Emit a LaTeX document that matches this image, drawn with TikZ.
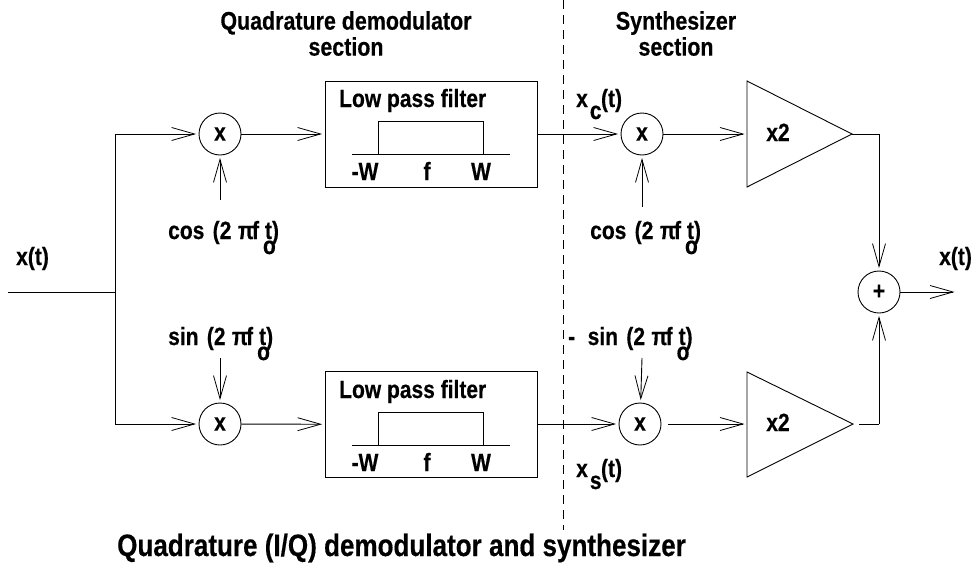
\documentclass[tikz,border=0pt]{standalone}
\usepackage{fontspec}
\setmainfont{Liberation Sans}[BoldFont={Liberation Sans Bold},BoldFeatures={FakeStretch=0.84,FakeBold=0.4}]
\usetikzlibrary{arrows.meta}
\newcommand{\lbl}{\fontsize{25}{28}\selectfont\bfseries}
\newcommand{\cosf}{(2\kern6.5ptπ\kern-2pt f\kern6pt\rlap{\kern-2pt\raisebox{-15pt}{o}}t)}
\newcommand{\subtxt}[1]{x\kern2pt\raisebox{-12pt}{#1}\kern-0.5pt(t)}
\tikzset{
  x=1pt,y=-1pt,
  wire/.style={line width=0.9pt,line join=miter},
  flow/.style={wire,-{Straight Barb[length=23pt,width=13pt,line width=0.8pt]},shorten >=2.5pt},
  mixer/.style={draw,circle,line width=0.9pt,minimum size=42pt,inner sep=0pt,font=\lbl},
  filterbox/.style={draw,line width=0.9pt,minimum width=212pt,minimum height=106pt,inner sep=0pt},
  txt/.style={inner sep=0pt,font=\lbl},
  sectxt/.style={inner sep=0pt,font=\fontsize{25.5}{26}\selectfont\bfseries,align=center},
}
\begin{document}
\begin{tikzpicture}
\useasboundingbox (0,0) rectangle (974,568);
% sections
\node[sectxt] (sec1) at (346,33.5) {Quadrature demodulator\\section};
\node[sectxt] (sec2) at (676,33.5) {Synthesizer\\section};
\coordinate (dashtop) at (563,0);
\coordinate (dashbot) at (563,530);
\draw[line width=0.8pt,dash pattern=on 9pt off 6pt] (dashtop) -- (dashbot);
% input
\coordinate (in) at (8,292);
\coordinate (split) at (115,292);
\coordinate (up) at (115,134);
\coordinate (dn) at (115,424);
\node[txt,anchor=base west] (xin) at (16,265) {x(t)};
\draw[wire] (in) -- (split);
% mixers
\node[mixer] (m1) at (220,134) {x};
\node[mixer] (m2) at (220,424) {x};
\node[mixer] (m3) at (642,134) {x};
\node[mixer] (m4) at (640,424) {x};
\node[mixer] (sum) at (879,292) {+};
\draw[flow] (up) -- (m1);
\draw[flow] (dn) -- (m2);
\draw[wire] (up) -- (dn);
% filters
\node[filterbox] (f1) at (431,134) {};
\node[filterbox] (f2) at (431,424.5) {};
\foreach \n/\y in {a/0,b/291}{
  \begin{scope}[yshift=-\y pt]
    \coordinate (bl\n) at (352,154);
    \coordinate (br\n) at (510,154);
    \coordinate (p1\n) at (378,154);
    \coordinate (p2\n) at (378,121);
    \coordinate (p3\n) at (483,121);
    \coordinate (p4\n) at (483,154);
    \draw[wire] (bl\n) -- (br\n);
    \draw[wire] (p1\n) -- (p2\n) -- (p3\n) -- (p4\n);
    \node[txt,anchor=base west] (lp\n) at (339,107) {Low pass filter};
    \node[txt,anchor=base] (lw\n) at (365,180) {-W};
    \node[txt,anchor=base] (lf\n) at (427,180) {f};
    \node[txt,anchor=base] (lr\n) at (481,180) {W};
  \end{scope}
}
\draw[flow] (m1) -- (f1);
\draw[flow] (m2) -- (f2);
\draw[flow] (f1.east |- m3) -- (m3);
\draw[flow] (f2.east |- m4) -- (m4);
% amplifiers
\coordinate (a1t) at (747,81);
\coordinate (a1b) at (747,187);
\coordinate (a1o) at (852,134);
\coordinate (a2t) at (747,372);
\coordinate (a2b) at (747,477);
\coordinate (a2o) at (853,424);
\coordinate (a2s) at (859,424);
\coordinate (c1) at (879,134);
\coordinate (c2) at (879,424);
\draw[wire] (a1t) -- (a1o) -- (a1b) -- cycle;
\draw[wire] (a2t) -- (a2o) -- (a2b) -- cycle;
\node[txt,anchor=base] (g1) at (778,141) {x2};
\node[txt,anchor=base] (g2) at (778,431) {x2};
\draw[flow] (m3) -- (a1t |- m3);
\coordinate (m4o) at (668,424);
\draw[flow] (m4o) -- (a2t |- m4);
\draw[wire] (a1o) -- (c1);
\draw[flow] (c1) -- (sum);
\draw[wire] (a2s) -- (c2);
\draw[flow] (c2) -- (sum);
\coordinate (out) at (957,292);
\draw[flow] (sum) -- (out);
\node[txt,anchor=base west] (xout) at (939,265) {x(t)};
% local oscillators
\node[txt,anchor=base west] (lo1) at (168,239) {cos\,\,\cosf};
\node[txt,anchor=base west] (lo2) at (168,345) {sin\,\,\cosf};
\node[txt,anchor=base west] (lo3) at (590,239) {cos\,\,\cosf};
\node[txt,anchor=base west] (lo4) at (568,345) {-\,\,\,sin\,\,\cosf};
\coordinate (s1) at (220,200);
\coordinate (s2) at (220,358);
\coordinate (s3) at (642,207);
\coordinate (s4) at (642,358);
\draw[flow] (s1) -- (m1);
\draw[flow] (s2) -- (m2);
\draw[flow] (s3) -- (m3);
\draw[flow] (s4) -- (m4);
% signal names
\node[txt,anchor=base west] (xc) at (576,107) {\subtxt{c}};
\node[txt,anchor=base west] (xs) at (576,477) {\subtxt{s}};
% title
\node[inner sep=0pt,font=\fontsize{31}{34}\selectfont\bfseries,anchor=base west] (title) at (117,556) {Quadrature (I/Q) demodulator and synthesizer};
\end{tikzpicture}
\end{document}
